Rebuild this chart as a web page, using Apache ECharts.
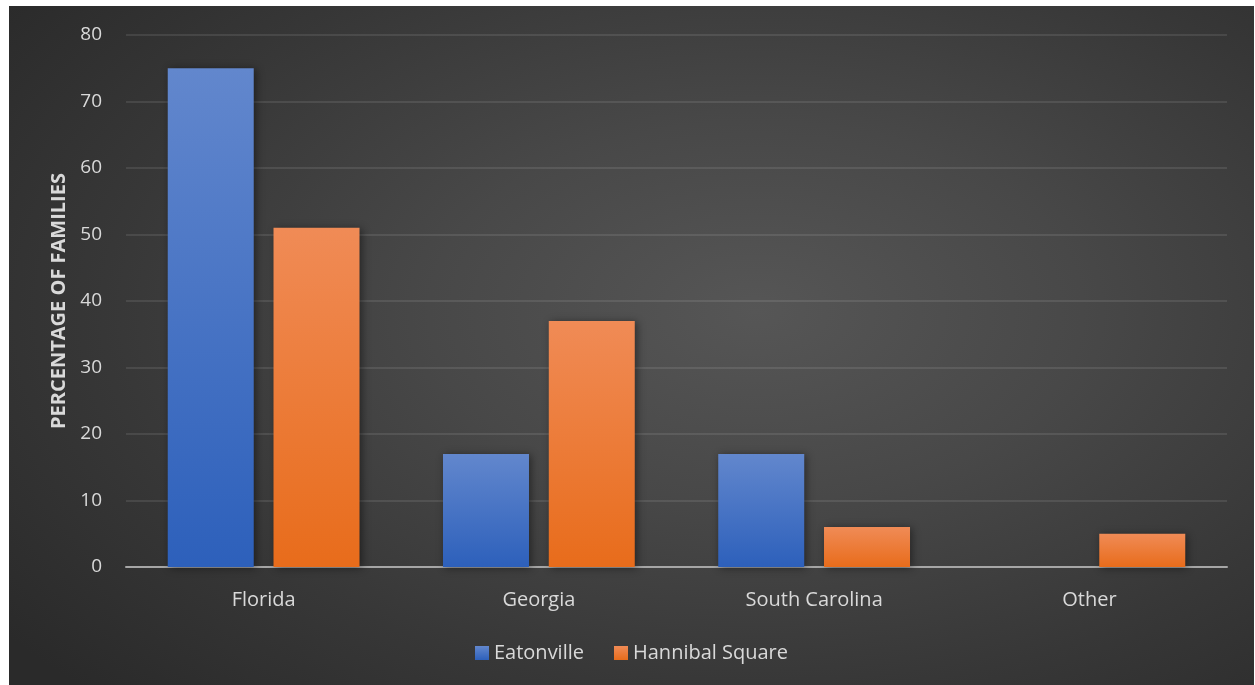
<!DOCTYPE html>
<html>
<head>
<meta charset="utf-8">
<script src="https://cdn.jsdelivr.net/npm/echarts@6/dist/echarts.min.js"></script>
<style>
  html, body { margin: 0; padding: 0; background: #ffffff; }
  #chart {
    position: absolute; left: 9px; top: 6px; width: 1245px; height: 679px;
    background: radial-gradient(ellipse 75% 80% at 60% 45%, #565656 0%, #484848 35%, #373737 70%, #2a2a2a 100%);
  }
</style>
</head>
<body>
<div id="chart"></div>
<script>
// Birthplace of families by state, as a percentage
const categories = ['Florida', 'Georgia', 'South Carolina', 'Other'];
const eatonville = [75, 17, 17, 0];
const hannibalSquare = [51, 37, 6, 5];
const yTicks = { min: 0, max: 80, interval: 10 };

const font = '"Open Sans", "Noto Sans", sans-serif';
const textColor = '#d9d9d9';

function barGradient(top, bottom) {
  return new echarts.graphic.LinearGradient(0, 0, 0, 1, [
    { offset: 0, color: top },
    { offset: 1, color: bottom }
  ]);
}

const chart = echarts.init(document.getElementById('chart'), null, { renderer: 'canvas' });
chart.setOption({
  backgroundColor: 'transparent',
  animation: false,
  textStyle: { fontFamily: font },
  grid: { left: 117, right: 27, top: 29, bottom: 118 },
  legend: {
    bottom: 17,
    left: 'center',
    icon: 'rect',
    itemWidth: 14,
    itemHeight: 14,
    itemGap: 30,
    textStyle: { color: textColor, fontSize: 20, fontFamily: font },
    data: ['Eatonville', 'Hannibal Square']
  },
  xAxis: {
    type: 'category',
    data: categories,
    axisTick: { show: false },
    axisLine: { lineStyle: { color: '#a6a6a6', width: 2 } },
    axisLabel: { color: textColor, fontSize: 20, margin: 23, fontFamily: font }
  },
  yAxis: {
    type: 'value',
    min: yTicks.min,
    max: yTicks.max,
    interval: yTicks.interval,
    name: 'PERCENTAGE OF FAMILIES',
    nameLocation: 'middle',
    nameRotate: 90,
    nameGap: 56,
    nameTextStyle: { color: textColor, fontSize: 20, fontWeight: 'bold', fontFamily: font },
    axisLine: { show: false },
    axisTick: { show: false },
    axisLabel: { color: textColor, fontSize: 19, margin: 24, fontFamily: font },
    splitLine: { lineStyle: { color: 'rgba(255,255,255,0.13)', width: 1.5 } }
  },
  series: [
    {
      name: 'Eatonville',
      type: 'bar',
      data: eatonville,
      barWidth: 86,
      barGap: '23%',
      itemStyle: {
        color: barGradient('#6287cd', '#2d60bb'),
        shadowColor: 'rgba(0,0,0,0.45)',
        shadowBlur: 8,
        shadowOffsetX: 2,
        shadowOffsetY: 1
      }
    },
    {
      name: 'Hannibal Square',
      type: 'bar',
      data: hannibalSquare,
      barWidth: 86,
      itemStyle: {
        color: barGradient('#f08b56', '#e86c1b'),
        shadowColor: 'rgba(0,0,0,0.45)',
        shadowBlur: 8,
        shadowOffsetX: 2,
        shadowOffsetY: 1
      }
    }
  ]
});
</script>
</body>
</html>
